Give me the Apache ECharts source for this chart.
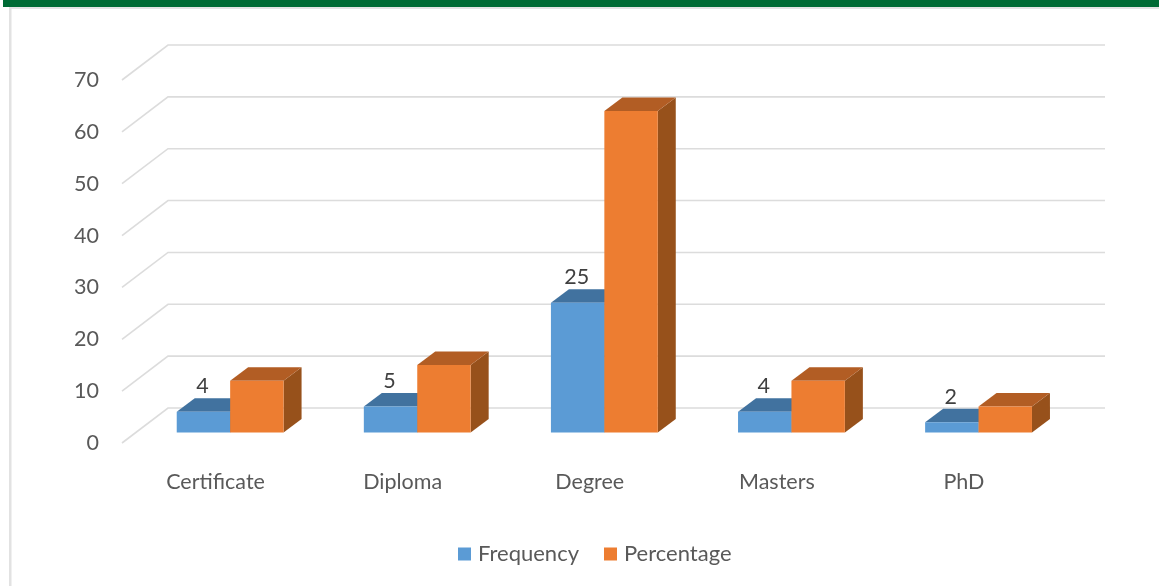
<!DOCTYPE html>
<html>
<head>
<meta charset="utf-8">
<style>html,body{margin:0;padding:0;background:#fff}#chart{width:1159px;height:586px}</style>
<script src="https://cdn.jsdelivr.net/npm/echarts@6/dist/echarts.min.js"></script>
</head>
<body>
<div id="chart"></div>
<script>
// Qualification levels, counts and shares
const categories = ['Certificate', 'Diploma', 'Degree', 'Masters', 'PhD'];
const frequency = [4, 5, 25, 4, 2];
const percentage = [10, 13, 62, 10, 5];
const wallTicks = [0, 10, 20, 30, 40, 50, 60, 70];

// Pseudo-3D projection, in pixels
const WALL_DX = 46, WALL_DY = -35;
const WALL_EXTEND = 1.5;
const BAR_DX = 14.6, BAR_DY = -10.5;
const DEPTH_DX = 18, DEPTH_DY = -13.5;
const BAR_BAND = 0.2855;

const FONT = 'Lato';
const chart = echarts.init(document.getElementById('chart'));

// Floor-to-wall gridlines: diagonal across the side, then along the back wall
function renderWall(params, api) {
  const cs = params.coordSys;
  const y = api.coord([0, api.value(1)])[1];
  return {
    type: 'polyline',
    silent: true,
    shape: { points: [[cs.x, y], [cs.x + WALL_DX, y + WALL_DY], [cs.x + cs.width + WALL_DX + WALL_EXTEND, y + WALL_DY]] },
    style: { fill: null, stroke: '#dcdcdc', lineWidth: 1.6 }
  };
}

// One cuboid: front, top and side faces, plus an optional value label
function makeBar(slot, colors, showLabel) {
  return function (params, api) {
    const idx = api.value(0), val = api.value(1);
    const band = api.size([1, 0])[0];
    const w = band * BAR_BAND;
    const top = api.coord([idx, val]);
    const base = api.coord([idx, 0]);
    const x0 = top[0] + slot * w + BAR_DX;
    const x1 = x0 + w;
    const yT = top[1] + BAR_DY;
    const yB = base[1] + BAR_DY;
    const children = [
      { type: 'polygon', shape: { points: [[x1, yT], [x1 + DEPTH_DX, yT + DEPTH_DY], [x1 + DEPTH_DX, yB + DEPTH_DY], [x1, yB]] }, style: { fill: colors.side } },
      { type: 'polygon', shape: { points: [[x0, yT], [x0 + DEPTH_DX, yT + DEPTH_DY], [x1 + DEPTH_DX, yT + DEPTH_DY], [x1, yT]] }, style: { fill: colors.top } },
      { type: 'rect', shape: { x: x0, y: yT, width: w, height: yB - yT }, style: { fill: colors.front } }
    ];
    if (showLabel) {
      children.push({
        type: 'text',
        style: {
          x: (x0 + x1) / 2 - 1, y: yT - 25.5,
          text: String(val),
          fill: '#404040', font: '21.5px ' + FONT,
          align: 'center', verticalAlign: 'middle'
        }
      });
    }
    return { type: 'group', children };
  };
}

const blue = { front: '#5b9bd5', top: '#41729f', side: '#3a6690' };
const orange = { front: '#ed7d31', top: '#b25d24', side: '#97511b' };

chart.setOption({
  animation: false,
  backgroundColor: '#ffffff',
  textStyle: { fontFamily: FONT },
  grid: { left: 122, right: 101.5, top: 80, bottom: 143 },
  legend: {
    left: 453, top: 538,
    icon: 'rect',
    itemWidth: 13, itemHeight: 13, itemGap: 25,
    selectedMode: false,
    data: ['Frequency', 'Percentage'],
    textStyle: { color: '#595959', fontSize: 22, fontFamily: FONT, padding: [0, 0, 0, 2] }
  },
  xAxis: {
    type: 'category',
    data: categories,
    axisLine: { show: false },
    axisTick: { show: false },
    axisLabel: { color: '#595959', fontSize: 21.5, margin: 28, fontFamily: FONT }
  },
  yAxis: {
    type: 'value',
    min: 0, max: 70, interval: 10,
    axisLine: { show: false },
    axisTick: { show: false },
    splitLine: { show: false },
    axisLabel: { color: '#595959', fontSize: 21.5, margin: 23, fontFamily: FONT }
  },
  series: [
    {
      name: 'Wall', type: 'custom', silent: true,
      renderItem: renderWall,
      encode: { x: 0, y: 1 },
      data: wallTicks.map(v => [0, v])
    },
    {
      name: 'Frequency', type: 'custom',
      itemStyle: { color: blue.front },
      renderItem: makeBar(-1, blue, true),
      encode: { x: 0, y: 1 },
      data: frequency.map((v, i) => [i, v])
    },
    {
      name: 'Percentage', type: 'custom',
      itemStyle: { color: orange.front },
      renderItem: makeBar(0, orange, false),
      encode: { x: 0, y: 1 },
      data: percentage.map((v, i) => [i, v])
    }
  ],
  graphic: [
    { type: 'rect', silent: true, shape: { x: 3, y: 0, width: 1156, height: 7 }, style: { fill: '#006b35' } },
    { type: 'rect', silent: true, shape: { x: 9, y: 7, width: 1150, height: 2 }, style: { fill: '#e4e4e4' } },
    { type: 'rect', silent: true, shape: { x: 9, y: 7, width: 2.5, height: 579 }, style: { fill: '#e2e2e2' } }
  ]
});
</script>
</body>
</html>
